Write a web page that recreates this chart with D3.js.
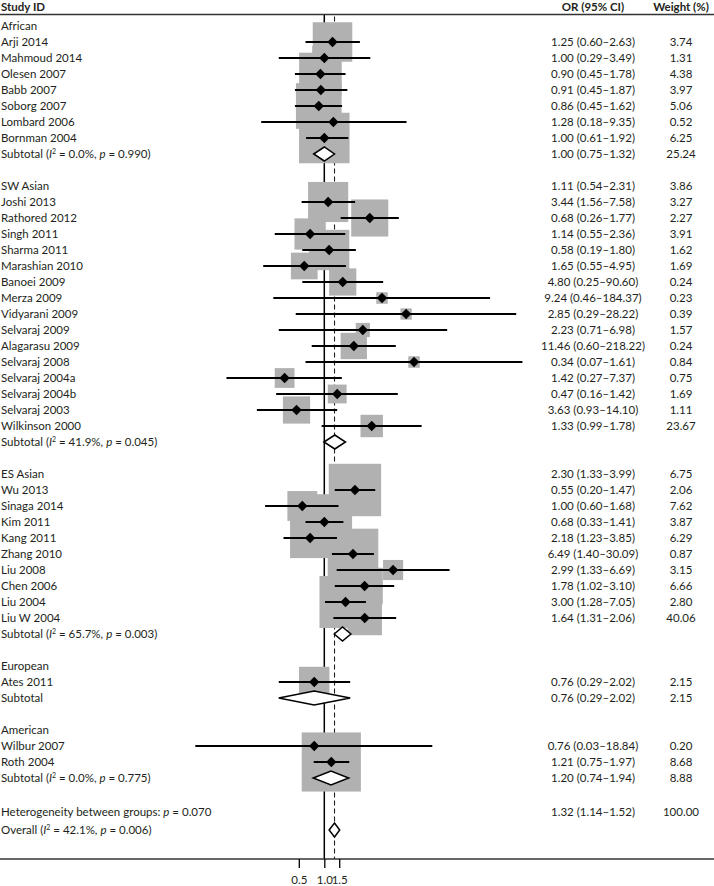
<!DOCTYPE html>
<html><head><meta charset="utf-8">
<script src="https://cdn.jsdelivr.net/npm/d3@7"></script>
<style>
body{margin:0;background:#fff;}
svg{display:block;font-family:Lato,"Open Sans",sans-serif;}
</style></head><body>
<svg id="chart" width="714" height="886"></svg>
<script>
// ---------------- data ----------------
const groupNames = ["African", "SW Asian", "ES Asian", "European", "American"];

// [study, OR, lower, upper, weight %]
const africanStudies = [
  ["Arji 2014", 1.25, 0.60, 2.63, 3.74],
  ["Mahmoud 2014", 1.00, 0.29, 3.49, 1.31],
  ["Olesen 2007", 0.90, 0.45, 1.78, 4.38],
  ["Babb 2007", 0.91, 0.45, 1.87, 3.97],
  ["Soborg 2007", 0.86, 0.45, 1.62, 5.06],
  ["Lombard 2006", 1.28, 0.18, 9.35, 0.52],
  ["Bornman 2004", 1.00, 0.61, 1.92, 6.25]
];
const swAsianStudies = [
  ["Joshi 2013", 1.11, 0.54, 2.31, 3.86],
  ["Rathored 2012", 3.44, 1.56, 7.58, 3.27],
  ["Singh 2011", 0.68, 0.26, 1.77, 2.27],
  ["Sharma 2011", 1.14, 0.55, 2.36, 3.91],
  ["Marashian 2010", 0.58, 0.19, 1.80, 1.62],
  ["Banoei 2009", 1.65, 0.55, 4.95, 1.69],
  ["Merza 2009", 4.80, 0.25, 90.60, 0.24],
  ["Vidyarani 2009", 9.24, 0.46, 184.37, 0.23],
  ["Selvaraj 2009", 2.85, 0.29, 28.22, 0.39],
  ["Alagarasu 2009", 2.23, 0.71, 6.98, 1.57],
  ["Selvaraj 2008", 11.46, 0.60, 218.22, 0.24],
  ["Selvaraj 2004a", 0.34, 0.07, 1.61, 0.84],
  ["Selvaraj 2004b", 1.42, 0.27, 7.37, 0.75],
  ["Selvaraj 2003", 0.47, 0.16, 1.42, 1.69],
  ["Wilkinson 2000", 3.63, 0.93, 14.10, 1.11]
];
const esAsianStudies = [
  ["Wu 2013", 2.30, 1.33, 3.99, 6.75],
  ["Sinaga 2014", 0.55, 0.20, 1.47, 2.06],
  ["Kim 2011", 1.00, 0.60, 1.68, 7.62],
  ["Kang 2011", 0.68, 0.33, 1.41, 3.87],
  ["Zhang 2010", 2.18, 1.23, 3.85, 6.29],
  ["Liu 2008", 6.49, 1.40, 30.09, 0.87],
  ["Chen 2006", 2.99, 1.33, 6.69, 3.15],
  ["Liu 2004", 1.78, 1.02, 3.10, 6.66],
  ["Liu W 2004", 3.00, 1.28, 7.05, 2.80]
];
const europeanStudies = [
  ["Ates 2011", 0.76, 0.29, 2.02, 2.15]
];
const americanStudies = [
  ["Wilbur 2007", 0.76, 0.03, 18.84, 0.20],
  ["Roth 2004", 1.21, 0.75, 1.97, 8.68]
];
const groupStudies = [africanStudies, swAsianStudies, esAsianStudies, europeanStudies, americanStudies];

// [OR, lower, upper, weight %]
const subtotals = [
  [1.00, 0.75, 1.32, 25.24],
  [1.33, 0.99, 1.78, 23.67],
  [1.64, 1.31, 2.06, 40.06],
  [0.76, 0.29, 2.02, 2.15],
  [1.20, 0.74, 1.94, 8.88]
];
const subtotalI2 = ["0.0%", "41.9%", "65.7%", null, "0.0%"];
const subtotalP = ["0.990", "0.045", "0.003", null, "0.775"];

const overall = [1.32, 1.14, 1.52, 100.00];
const overallI2 = "42.1%";
const overallP = "0.006";
const heterogeneityP = "0.070";

// the printed OR/weight columns sit one line higher in these blocks of the source table
const textRowShift = [0, -1, -1, 0, 0];
const overallTextShift = -1;

const xTickValues = [0.5, 1.0, 1.5];
const xTickLabels = ["0.5", "1.0", "1.5"];

// ---------------- layout ----------------
const W = 714, H = 886;
const svg = d3.select("#chart");
const ink = "#231f20";
const fs = 11.5;

const x = d3.scaleLog().domain([0.5, 1]).range([298.8, 324.3]);
const y = d3.scaleLinear().domain([0, 48, 50]).range([26, 794, 830]);
const headerY = 14.5, axisY = 859;
const orX = 593, wX = 681;
const fmt2 = d3.format(".2f");

// build rows
const studyRows = [], subRows = [], headerRows = [];
let idx = 0;
groupNames.forEach((g, gi) => {
  headerRows.push({label: g, i: idx++});
  groupStudies[gi].forEach(s => {
    studyRows.push({name: s[0], or: s[1], lo: s[2], hi: s[3], w: s[4], i: idx, ti: idx + textRowShift[gi]});
    idx++;
  });
  const st = subtotals[gi];
  subRows.push({or: st[0], lo: st[1], hi: st[2], w: st[3], i: idx, ti: idx + textRowShift[gi], I2: subtotalI2[gi], p: subtotalP[gi]});
  idx++;
  idx++; // blank line
});
const hetI = idx, overallI = idx + 1;

// ---------------- reference lines ----------------
svg.append("line").attr("x1", x(1)).attr("x2", x(1)).attr("y1", headerY).attr("y2", axisY)
  .attr("stroke", "#000").attr("stroke-width", 1.5);
svg.append("line").attr("x1", x(overall[0])).attr("x2", x(overall[0])).attr("y1", headerY + 2).attr("y2", axisY)
  .attr("stroke", ink).attr("stroke-width", 1.1).attr("stroke-dasharray", "5,3");

// ---------------- weight boxes ----------------
const side = w => 19.4 * Math.sqrt(w) + 2;
svg.append("g").selectAll("rect").data(studyRows).join("rect")
  .attr("x", d => x(d.or) - side(d.w) / 2)
  .attr("y", d => y(d.i) - side(d.w) / 2)
  .attr("width", d => side(d.w)).attr("height", d => side(d.w))
  .attr("fill", "#b1b1b1");

// ---------------- CIs and point markers ----------------
svg.append("g").selectAll("line").data(studyRows).join("line")
  .attr("x1", d => x(d.lo)).attr("x2", d => x(d.hi))
  .attr("y1", d => y(d.i)).attr("y2", d => y(d.i))
  .attr("stroke", "#000").attr("stroke-width", 2);
const m = 5.2;
svg.append("g").selectAll("path").data(studyRows).join("path")
  .attr("d", d => `M${x(d.or) - m},${y(d.i)}L${x(d.or)},${y(d.i) - m}L${x(d.or) + m},${y(d.i)}L${x(d.or)},${y(d.i) + m}Z`)
  .attr("fill", "#000");

// ---------------- pooled diamonds ----------------
const pooled = subRows.map(d => ({or: d.or, lo: d.lo, hi: d.hi, i: d.i}))
  .concat([{or: overall[0], lo: overall[1], hi: overall[2], i: overallI}]);
const dh = 7;
svg.append("g").selectAll("path").data(pooled).join("path")
  .attr("d", d => `M${x(d.lo)},${y(d.i)}L${x(d.or)},${y(d.i) - dh}L${x(d.hi)},${y(d.i)}L${x(d.or)},${y(d.i) + dh}Z`)
  .attr("fill", "#fff").attr("stroke", "#000").attr("stroke-width", 1.5);

// ---------------- header ----------------
svg.append("line").attr("x1", 0).attr("x2", W).attr("y1", headerY).attr("y2", headerY)
  .attr("stroke", "#333").attr("stroke-width", 1.5);
const hdr = svg.append("g").attr("font-weight", "bold").attr("font-size", fs).attr("fill", ink);
hdr.append("text").attr("x", 1).attr("y", 11).text("Study ID");
hdr.append("text").attr("x", orX).attr("y", 11).attr("text-anchor", "middle").text("OR (95% CI)");
hdr.append("text").attr("x", wX).attr("y", 11).attr("text-anchor", "middle").text("Weight (%)");

// ---------------- left labels ----------------
const lab = svg.append("g").attr("font-size", fs).attr("fill", ink);
const ty = i => y(i) + fs * 0.36;
headerRows.forEach(d => lab.append("text").attr("x", 1).attr("y", ty(d.i)).text(d.label));
studyRows.forEach(d => lab.append("text").attr("x", 1).attr("y", ty(d.i)).text(d.name));
function statLabel(t, prefix, I2, p) {
  t.append("tspan").text(prefix);
  if (I2 === null) return;
  t.append("tspan").text(" (");
  t.append("tspan").attr("font-style", "italic").text("I");
  t.append("tspan").attr("font-size", fs * 0.6).attr("dy", -4).text("2");
  t.append("tspan").attr("dy", 4).text(" = " + I2 + ", ");
  t.append("tspan").attr("font-style", "italic").text("p");
  t.append("tspan").text(" = " + p + ")");
}
subRows.forEach(d => statLabel(lab.append("text").attr("x", 1).attr("y", ty(d.i)), "Subtotal", d.I2, d.p));
{
  const t = lab.append("text").attr("x", 1).attr("y", ty(hetI));
  t.append("tspan").text("Heterogeneity between groups: ");
  t.append("tspan").attr("font-style", "italic").text("p");
  t.append("tspan").text(" = " + heterogeneityP);
}
statLabel(lab.append("text").attr("x", 1).attr("y", ty(overallI)), "Overall", overallI2, overallP);

// ---------------- right columns ----------------
const ciText = d => `${fmt2(d.or)} (${fmt2(d.lo)}\u2013${fmt2(d.hi)})`;
const colRows = studyRows.concat(subRows)
  .concat([{or: overall[0], lo: overall[1], hi: overall[2], w: overall[3], ti: overallI + overallTextShift}]);
const cols = svg.append("g").attr("font-size", fs).attr("fill", ink).attr("text-anchor", "middle");
colRows.forEach(d => {
  cols.append("text").attr("x", orX).attr("y", ty(d.ti)).text(ciText(d));
  cols.append("text").attr("x", wX).attr("y", ty(d.ti)).text(fmt2(d.w));
});

// ---------------- x axis ----------------
svg.append("line").attr("x1", 0).attr("x2", W).attr("y1", axisY).attr("y2", axisY)
  .attr("stroke", "#333").attr("stroke-width", 1.5);
const ax = svg.append("g").attr("transform", `translate(0,${axisY})`)
  .call(d3.axisBottom(x).tickValues(xTickValues).tickFormat((d, i) => xTickLabels[i]).tickSize(9).tickSizeOuter(0));
ax.select(".domain").remove();
ax.selectAll(".tick line").attr("stroke", "#000").attr("stroke-width", 1.3);
ax.selectAll(".tick text").attr("font-family", "Lato, 'Open Sans', sans-serif").attr("font-size", fs)
  .attr("fill", ink).attr("y", 17);
</script>
</body></html>
